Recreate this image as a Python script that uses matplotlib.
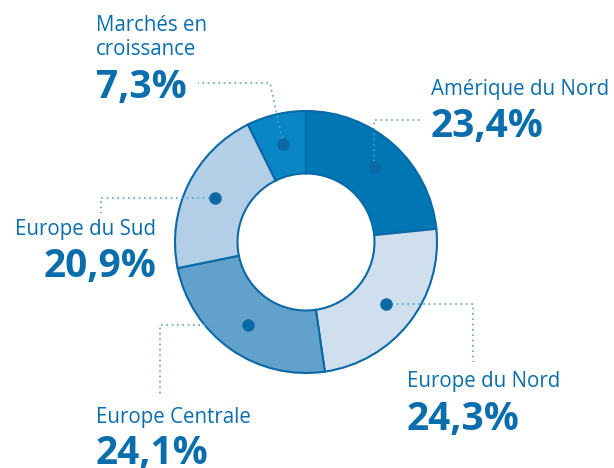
import matplotlib.pyplot as plt
import numpy as np

# Répartition du chiffre d'affaires par région
regions = ["Amérique du Nord", "Europe du Nord", "Europe Centrale",
           "Europe du Sud", "Marchés en\ncroissance"]
shares = [23.4, 24.3, 24.1, 20.9, 7.3]
share_labels = ["23,4%", "24,3%", "24,1%", "20,9%", "7,3%"]
colors = ["#0077b5", "#cfdfee", "#62a1cc", "#b3cee7", "#0986c4"]

W, H = 614, 468
TEXT = "#0a6eac"
EDGE = "#0b69a6"
LEADER = "#5a9fd0"


def py(y):
    # pixel y (from top) -> data y
    return H - y


fig = plt.figure(figsize=(W / 100, H / 100), dpi=100)
ax = fig.add_axes([0, 0, 1, 1])

cx, cy, r_out, r_in = 306, py(242), 131, 68.5

wedges, _ = ax.pie(shares, colors=colors, startangle=90, counterclock=False,
                   radius=r_out, center=(cx, cy), frame=True,
                   wedgeprops=dict(width=r_out - r_in, edgecolor=EDGE, linewidth=1.5))
ax.set_xlim(0, W)
ax.set_ylim(0, H)
ax.axis("off")

# dots at the middle of each ring segment
r_dot = 101
dots = []
for w in wedges:
    mid = np.deg2rad((w.theta1 + w.theta2) / 2)
    dx, dy = cx + r_dot * np.cos(mid), cy + r_dot * np.sin(mid)
    dots.append((dx, dy))
    ax.plot(dx, dy, "o", ms=8, color=EDGE, zorder=5)

# leader paths (after the dot), pixel coordinates
paths = [
    [(None, 120), (423, 120)],           # Amérique du Nord: up, then right
    [(473, None), (473, 362)],           # Europe du Nord: right, then down
    [(160, None), (160, 397)],           # Europe Centrale: left, then down
    [(101, None), (101, 213)],           # Europe du Sud: left, then down
    [(270, 83), (198, 83)],              # Marchés: up, then left
]
for (dx, dy), path in zip(dots, paths):
    xs, ys = [dx], [dy]
    for px, pyy in path:
        xs.append(dx if px is None else px)
        ys.append(dy if pyy is None else py(pyy))
    ax.plot(xs, ys, color=LEADER, lw=1.2, linestyle=(0, (1, 2.2)), zorder=1)

# labels: (x, name baseline, value baseline, alignment)
label_pos = [
    (431, 95, 137, "left"),
    (407, 387, 430, "left"),
    (96, 423, 464, "left"),
    (156, 235, 277, "right"),
    (96, 55, 98, "left"),
]
font = "Open Sans"
for name, val, (x, yb, vb, ha) in zip(regions, share_labels, label_pos):
    ax.text(x, py(yb), name, ha=ha, va="baseline", fontsize=14.8,
            color=TEXT, family=font, linespacing=1.2)
    ax.text(x + (0 if ha == "left" else 0), py(vb), val, ha=ha, va="baseline",
            fontsize=28, fontweight="bold", color=TEXT, family=font)

fig.savefig("out.png", dpi=100)
